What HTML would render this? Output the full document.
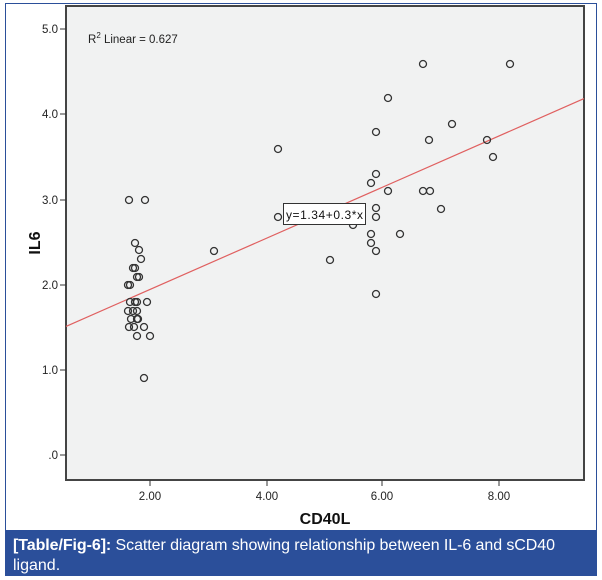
<!DOCTYPE html>
<html><head><meta charset="utf-8"><style>
body{margin:0;background:#fff;width:602px;height:580px;overflow:hidden;font-family:"Liberation Sans",sans-serif}
</style></head><body>
<svg width="602" height="580" xmlns="http://www.w3.org/2000/svg" style="position:absolute;left:0;top:0">
<rect x="5.5" y="3.5" width="591" height="572" fill="#fff" stroke="#2b4f9a" stroke-width="1"/>
<rect x="66" y="6" width="518" height="474" fill="#f1f2f2" stroke="#444" stroke-width="2"/>
<g font-size="11.5" fill="#222" text-anchor="end">
<text x="58" y="33">5.0</text><text x="58" y="118">4.0</text><text x="58" y="204">3.0</text>
<text x="58" y="289">2.0</text><text x="58" y="374">1.0</text><text x="58" y="459">.0</text>
</g>
<g stroke="#333" stroke-width="1">
<line x1="60" y1="29" x2="66" y2="29"/><line x1="60" y1="114" x2="66" y2="114"/><line x1="60" y1="200" x2="66" y2="200"/>
<line x1="60" y1="285" x2="66" y2="285"/><line x1="60" y1="370" x2="66" y2="370"/><line x1="60" y1="455" x2="66" y2="455"/>
<line x1="150" y1="480" x2="150" y2="486"/><line x1="267" y1="480" x2="267" y2="486"/><line x1="382" y1="480" x2="382" y2="486"/><line x1="499" y1="480" x2="499" y2="486"/>
</g>
<g font-size="11.5" fill="#222" text-anchor="middle">
<text x="150" y="500">2.00</text><text x="267" y="500">4.00</text><text x="382" y="500">6.00</text><text x="499" y="500">8.00</text>
</g>
<text x="325" y="524" font-size="16" font-weight="bold" text-anchor="middle" fill="#111">CD40L</text>
<text transform="translate(40,243) rotate(-90)" font-size="16" font-weight="bold" text-anchor="middle" fill="#111">IL6</text>
<text x="88" y="43" font-size="11.5" fill="#222">R<tspan dy="-5" font-size="8">2</tspan><tspan dy="5"> Linear = 0.627</tspan></text>
<line x1="66" y1="326.4" x2="584" y2="98.6" stroke="#e06060" stroke-width="1.2"/>
<g fill="none" stroke="#333" stroke-width="1.3">
<circle cx="129" cy="200" r="3.5"/><circle cx="145" cy="200" r="3.5"/><circle cx="135" cy="243" r="3.5"/><circle cx="139" cy="250" r="3.5"/><circle cx="141" cy="259" r="3.5"/><circle cx="133" cy="268" r="3.5"/><circle cx="135" cy="268" r="3.5"/><circle cx="137" cy="277" r="3.5"/><circle cx="139" cy="277" r="3.5"/><circle cx="128" cy="285" r="3.5"/><circle cx="130" cy="285" r="3.5"/><circle cx="130" cy="302" r="3.5"/><circle cx="135" cy="302" r="3.5"/><circle cx="137" cy="302" r="3.5"/><circle cx="147" cy="302" r="3.5"/><circle cx="128" cy="311" r="3.5"/><circle cx="133" cy="311" r="3.5"/><circle cx="137" cy="311" r="3.5"/><circle cx="131" cy="319" r="3.5"/><circle cx="137" cy="319" r="3.5"/><circle cx="138" cy="319" r="3.5"/><circle cx="129" cy="327" r="3.5"/><circle cx="134" cy="327" r="3.5"/><circle cx="144" cy="327" r="3.5"/><circle cx="137" cy="336" r="3.5"/><circle cx="150" cy="336" r="3.5"/><circle cx="144" cy="378" r="3.5"/>
<circle cx="214" cy="251" r="3.5"/><circle cx="423" cy="64" r="3.5"/><circle cx="510" cy="64" r="3.5"/><circle cx="388" cy="98" r="3.5"/><circle cx="376" cy="132" r="3.5"/><circle cx="452" cy="124" r="3.5"/><circle cx="429" cy="140" r="3.5"/><circle cx="487" cy="140" r="3.5"/><circle cx="493" cy="157" r="3.5"/><circle cx="278" cy="149" r="3.5"/><circle cx="376" cy="174" r="3.5"/><circle cx="371" cy="183" r="3.5"/><circle cx="388" cy="191" r="3.5"/><circle cx="423" cy="191" r="3.5"/><circle cx="430" cy="191" r="3.5"/><circle cx="441" cy="209" r="3.5"/><circle cx="376" cy="208" r="3.5"/><circle cx="376" cy="217" r="3.5"/><circle cx="278" cy="217" r="3.5"/><circle cx="353" cy="225" r="3.5"/><circle cx="400" cy="234" r="3.5"/><circle cx="371" cy="234" r="3.5"/><circle cx="371" cy="243" r="3.5"/><circle cx="376" cy="251" r="3.5"/><circle cx="330" cy="260" r="3.5"/><circle cx="376" cy="294" r="3.5"/>
</g>
<rect x="283.5" y="203.5" width="82" height="21" fill="#fff" stroke="#333" stroke-width="1"/>
<text x="286" y="219" font-size="12" fill="#111" textLength="77">y=1.34+0.3*x</text>
<rect x="5" y="530" width="592" height="46" fill="#2b4f9a"/>
<text x="13" y="550" font-size="16" fill="#fff" textLength="542"><tspan font-weight="bold">[Table/Fig-6]:</tspan> Scatter diagram showing relationship between IL-6 and sCD40</text>
<text x="13" y="570" font-size="16" fill="#fff">ligand.</text>
</svg>
</body></html>
